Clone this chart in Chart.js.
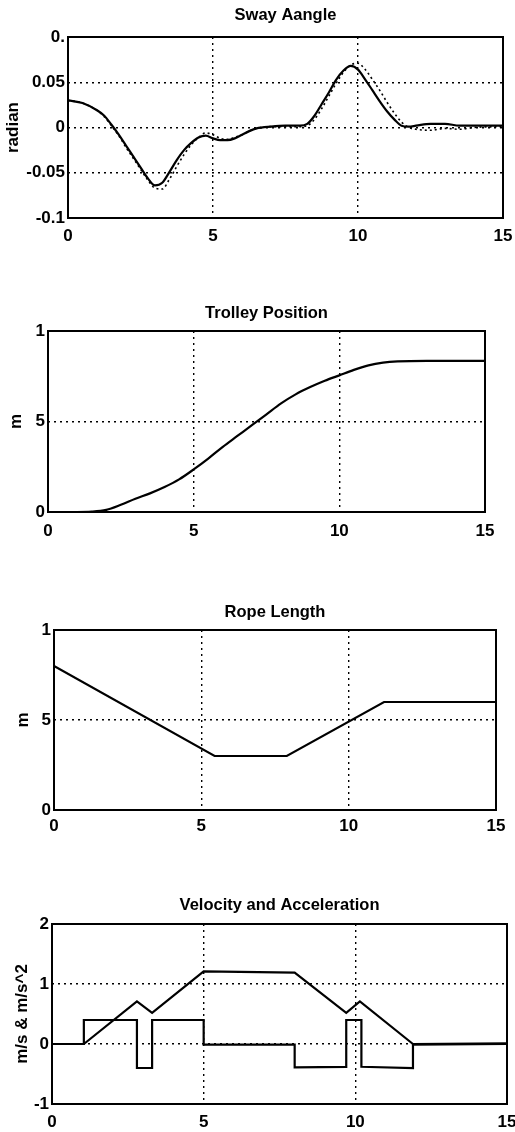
<!DOCTYPE html>
<html>
<head>
<meta charset="utf-8">
<script src="https://cdn.jsdelivr.net/npm/chart.js@4.4.1/dist/chart.umd.min.js"></script>
<style>
  body { margin: 0; background: #fff; }
  canvas { position: absolute; left: 0; }
</style>
</head>
<body>
<canvas id="sway"></canvas>
<canvas id="trolley"></canvas>
<canvas id="rope"></canvas>
<canvas id="vel"></canvas>
<script>
// --- data ---
const swayTime = [0, 0.5, 1, 1.25, 1.5, 1.75, 2, 2.25, 2.5, 2.75, 3, 3.25, 3.5, 3.75, 4, 4.25, 4.5, 4.75, 5, 5.25, 5.5, 5.75, 6, 6.25, 6.5, 7, 7.5, 8, 8.25, 8.5, 8.75, 9, 9.25, 9.5, 9.75, 10, 10.25, 10.5, 10.75, 11, 11.25, 11.5, 11.75, 12, 12.5, 13, 13.5, 14, 15];
const swaySolid = [0.030, 0.027, 0.019, 0.013, 0.003, -0.008, -0.020, -0.032, -0.044, -0.056, -0.064, -0.061, -0.049, -0.036, -0.025, -0.017, -0.011, -0.009, -0.012, -0.014, -0.014, -0.012, -0.008, -0.004, -0.001, 0.001, 0.002, 0.002, 0.004, 0.013, 0.026, 0.039, 0.053, 0.063, 0.068, 0.064, 0.053, 0.041, 0.029, 0.018, 0.009, 0.002, 0.001, 0.002, 0.004, 0.004, 0.002, 0.002, 0.002];
const swayDotted = [0.030, 0.027, 0.019, 0.012, 0.002, -0.009, -0.022, -0.034, -0.046, -0.058, -0.067, -0.068, -0.057, -0.043, -0.030, -0.019, -0.011, -0.006, -0.008, -0.012, -0.013, -0.011, -0.008, -0.004, -0.001, 0.001, 0.001, 0.001, 0.002, 0.009, 0.021, 0.035, 0.049, 0.061, 0.069, 0.071, 0.064, 0.053, 0.041, 0.028, 0.016, 0.006, 0.000, -0.002, -0.003, -0.001, -0.002, 0.000, 0.001];
const swayTicks = [-0.1, -0.05, 0, 0.05, 0.1];
const swayTickLabels = ['-0.1', '-0.05', '0', '0.05', '0.'];

const trolleyTime = [0, 1, 1.5, 2, 2.5, 3, 3.5, 4, 4.5, 5, 5.5, 6, 6.5, 7, 7.5, 8, 8.5, 9, 9.5, 10, 10.5, 11, 11.5, 12, 13, 15];
const trolleyPos = [0, 0, 0.002, 0.012, 0.04, 0.073, 0.103, 0.138, 0.18, 0.235, 0.295, 0.36, 0.42, 0.48, 0.54, 0.60, 0.65, 0.69, 0.725, 0.755, 0.785, 0.81, 0.825, 0.832, 0.835, 0.835];

const ropeTime = [0, 5.45, 7.9, 11.2, 15];
const ropeLen = [0.80, 0.30, 0.30, 0.60, 0.60];

const unitTicks = [0, 0.5, 1];
const unitTickLabels = ['0', '5', '1'];

const velTime = [0, 1.05, 2.8, 3.3, 5.0, 8.0, 9.7, 10.15, 11.9, 15];
const velocity = [0, 0, 0.71, 0.52, 1.21, 1.19, 0.52, 0.71, 0, 0.01];
const accTime = [0, 1.05, 1.05, 2.8, 2.8, 3.3, 3.3, 5.0, 5.0, 8.0, 8.0, 9.7, 9.7, 10.2, 10.2, 11.9, 11.9, 15];
const accel = [0, 0, 0.4, 0.4, -0.4, -0.4, 0.4, 0.4, -0.01, -0.01, -0.39, -0.38, 0.4, 0.4, -0.38, -0.4, -0.01, 0];
const velTicks = [-1, 0, 1, 2];
const velTickLabels = ['-1', '0', '1', '2'];

const timeTicks = [0, 5, 10, 15];
const timeTickLabels = ['0', '5', '10', '15'];

// --- drawing ---
const FONT = "'Liberation Sans', Arial, sans-serif";
const TICK_SIZE = 17;
const TITLE_SIZE = 16.5;
const PAGE_W = 515;

const toPoints = (xs, ys) => xs.map((x, i) => ({ x: x, y: ys[i] }));

// solid black box round the plot area
const framePlugin = {
  id: 'frame',
  afterDraw(chart) {
    const { ctx, chartArea: a } = chart;
    ctx.save();
    ctx.strokeStyle = '#000';
    ctx.lineWidth = 2;
    ctx.strokeRect(a.left, a.top, a.right - a.left, a.bottom - a.top);
    ctx.restore();
  }
};

function makeChart(id, box, title, yLabel, yMin, yMax, yTicks, yLabels, datasets) {
  const canvas = document.getElementById(id);
  const h = box.bottom - box.top;
  canvas.width = PAGE_W;
  canvas.height = h;
  canvas.style.top = box.top + 'px';

  const tlh = TITLE_SIZE * 1.2;
  const klh = TICK_SIZE * 1.2;
  const areaBottom = box.areaBottom - box.top;

  return new Chart(canvas, {
    type: 'line',
    data: { datasets: datasets },
    options: {
      responsive: false,
      animation: false,
      devicePixelRatio: 1,
      layout: { padding: { top: 0, left: 0, right: PAGE_W - box.right, bottom: 0 } },
      plugins: {
        legend: { display: false },
        tooltip: { enabled: false },
        title: {
          display: true,
          text: title,
          fullSize: false,
          color: '#000',
          font: { family: FONT, size: TITLE_SIZE, weight: 'bold' },
          padding: {
            top: box.titleY - box.top - tlh / 2,
            bottom: box.areaTop - box.titleY - tlh / 2
          }
        }
      },
      elements: { point: { radius: 0 } },
      scales: {
        x: {
          type: 'linear',
          min: 0,
          max: 15,
          afterBuildTicks: (s) => { s.ticks = timeTicks.map(v => ({ value: v })); },
          afterFit: (s) => { s.height = h - areaBottom; s.paddingLeft = 0; s.paddingRight = 0; },
          ticks: {
            color: '#000',
            maxRotation: 0,
            autoSkip: false,
            padding: box.labelY - box.areaBottom - klh / 2,
            font: { family: FONT, size: TICK_SIZE, weight: 'bold' },
            callback: (v, i) => timeTickLabels[i]
          },
          grid: { color: '#000', lineWidth: 1.4, drawTicks: false },
          border: { display: false, dash: [2, 4] }
        },
        y: {
          type: 'linear',
          min: yMin,
          max: yMax,
          afterBuildTicks: (s) => { s.ticks = yTicks.map(v => ({ value: v })); },
          afterFit: (s) => { s.width = box.left; s.paddingTop = 0; s.paddingBottom = 0; },
          ticks: {
            color: '#000',
            autoSkip: false,
            padding: 3,
            font: { family: FONT, size: TICK_SIZE, weight: 'bold' },
            callback: (v, i) => yLabels[i]
          },
          title: {
            display: true,
            text: yLabel,
            color: '#000',
            font: { family: FONT, size: TICK_SIZE, weight: 'bold' },
            padding: { top: box.yTitleX - klh / 2, bottom: 0 }
          },
          grid: { color: '#000', lineWidth: 1.4, drawTicks: false },
          border: { display: false, dash: [2, 4] }
        }
      }
    },
    plugins: [framePlugin]
  });
}

const solid = (pts, curved) => ({
  data: pts,
  borderColor: '#000',
  borderWidth: 2.2,
  fill: false,
  tension: 0,
  cubicInterpolationMode: curved ? 'monotone' : 'default'
});

makeChart('sway',
  { top: 0, bottom: 252, titleY: 15, areaTop: 37, areaBottom: 218, labelY: 236, left: 68, right: 503, yTitleX: 13 },
  'Sway Aangle', 'radian', -0.1, 0.1, swayTicks, swayTickLabels,
  [
    Object.assign(solid(toPoints(swayTime, swayDotted), true), { borderWidth: 1.6, borderDash: [2, 3] }),
    solid(toPoints(swayTime, swaySolid), true)
  ]);

makeChart('trolley',
  { top: 262, bottom: 546, titleY: 313, areaTop: 331, areaBottom: 512, labelY: 531, left: 48, right: 485, yTitleX: 16 },
  'Trolley Position', 'm', 0, 1, unitTicks, unitTickLabels,
  [solid(toPoints(trolleyTime, trolleyPos), true)]);

makeChart('rope',
  { top: 566, bottom: 842, titleY: 612, areaTop: 630, areaBottom: 810, labelY: 826, left: 54, right: 496, yTitleX: 23 },
  'Rope Length', 'm', 0, 1, unitTicks, unitTickLabels,
  [solid(toPoints(ropeTime, ropeLen), false)]);

makeChart('vel',
  { top: 862, bottom: 1132, titleY: 905, areaTop: 924, areaBottom: 1104, labelY: 1122, left: 52, right: 507, yTitleX: 22 },
  'Velocity and Acceleration', 'm/s & m/s^2', -1, 2, velTicks, velTickLabels,
  [
    solid(toPoints(velTime, velocity), false),
    solid(toPoints(accTime, accel), false)
  ]);
</script>
</body>
</html>
